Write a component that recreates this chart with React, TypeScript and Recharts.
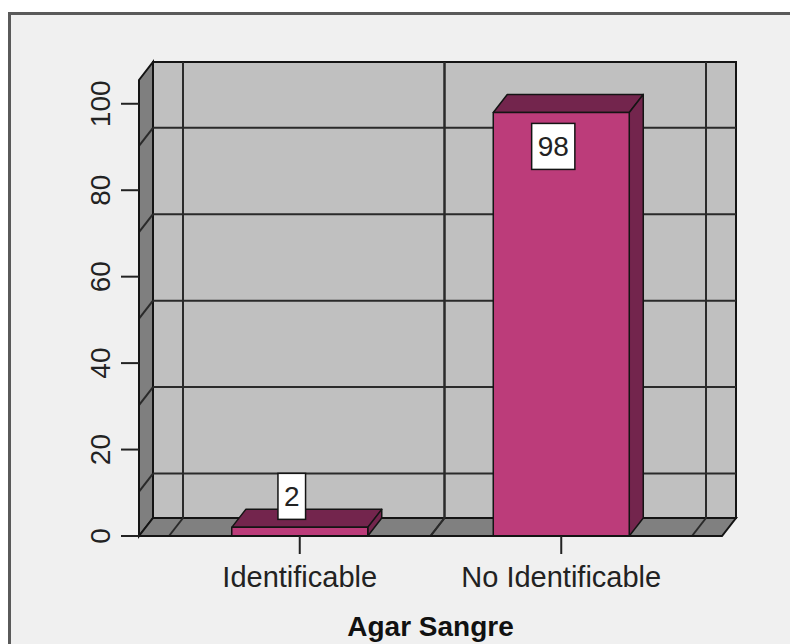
import React from 'react'
import { BarChart, Bar, XAxis, YAxis, ReferenceArea, LabelList } from 'recharts'

const categories = ['Identificable', 'No Identificable']
const percents = [2, 98]
const yTicks = [0, 20, 40, 60, 80, 100]
const gridValues = [20, 40, 60, 80, 100]
const xTitle = 'Agar Sangre'

const data = categories.map((name, i) => ({ name, value: percents[i] }))

const Y_MAX = 105.5
const PAD = 30 // floor extends past the outer bands
const DX = 14 // 3D depth
const DY = 18
const GRID_SHIFT = 42 // SPSS draws the back grid lower than the tick marks
const FONT = '"Liberation Sans", Arial, sans-serif'
const LINE = '#141414'

function Box3D(props: any) {
  const { x, y, width, height } = props
  const l = x - PAD
  const r = x + width + PAD
  const t = y
  const b = y + height
  return (
    <g>
      <rect
        x={l + DX}
        y={t - DY}
        width={r - l}
        height={b - t}
        fill='#c0c0c0'
        stroke={LINE}
        strokeWidth={2}
      />
      <polygon
        points={`${l},${t} ${l + DX},${t - DY} ${l + DX},${b - DY} ${l},${b}`}
        fill='#7f7f7f'
        stroke={LINE}
        strokeWidth={2}
      />
      <polygon
        points={`${l},${b} ${l + DX},${b - DY} ${r + DX},${b - DY} ${r},${b}`}
        fill='#808080'
        stroke={LINE}
        strokeWidth={2}
      />
    </g>
  )
}

function HGrid(props: any) {
  const { x, y, width } = props
  const l = x - PAD
  const r = x + width + PAD
  const yf = y + GRID_SHIFT
  const yb = yf - DY
  return (
    <g stroke='#2a2a2a' strokeWidth={2}>
      <line x1={l} y1={yf} x2={l + DX} y2={yb} />
      <line x1={l + DX} y1={yb} x2={r + DX} y2={yb} />
    </g>
  )
}

function VGrid(props: any) {
  const { x, y, width, height } = props
  const b = y + height
  return (
    <g stroke='#2a2a2a' strokeWidth={2}>
      {[x, x + width].map((xx, i) => (
        <g key={i}>
          <line x1={xx + DX} y1={y - DY} x2={xx + DX} y2={b - DY} />
          <line x1={xx + DX} y1={b - DY} x2={xx} y2={b} />
        </g>
      ))}
    </g>
  )
}

function Bar3D(props: any) {
  const { x, y, width, height } = props
  const r = x + width
  const b = y + height
  return (
    <g stroke={LINE} strokeWidth={1.5} strokeLinejoin='round'>
      <polygon
        points={`${x},${y} ${x + DX},${y - DY} ${r + DX},${y - DY} ${r},${y}`}
        fill='#73254d'
      />
      <polygon
        points={`${r},${y} ${r + DX},${y - DY} ${r + DX},${b - DY} ${r},${b}`}
        fill='#73254d'
      />
      <rect x={x} y={y} width={width} height={height} fill='#bc3c7a' />
    </g>
  )
}

function ValueTag(props: any) {
  const vb = props.viewBox ?? props
  const { x, y, width, height } = vb
  const value = props.value
  const cx = x + width / 2 - 8
  const cy = height > 80 ? y + 34 : y - 31
  const bw = 12 + String(value).length * 15.6
  return (
    <g>
      <rect
        x={cx - bw / 2}
        y={cy - 23}
        width={bw}
        height={46}
        fill='#fff'
        stroke={LINE}
        strokeWidth={1.5}
      />
      <text
        x={cx}
        y={cy}
        textAnchor='middle'
        dominantBaseline='central'
        fontSize={28}
        fontFamily={FONT}
        fill='#222'
      >
        {value}
      </text>
    </g>
  )
}

function YTick(props: any) {
  const { x, y, payload } = props
  const tx = x - 11
  return (
    <text
      x={tx}
      y={y}
      transform={`rotate(-90 ${tx} ${y})`}
      textAnchor='middle'
      fontSize={28}
      fontFamily={FONT}
      fill='#222'
    >
      {payload.value}
    </text>
  )
}

export default function App() {
  return (
    <div
      style={{
        position: 'fixed',
        left: 0,
        top: 0,
        width: 790,
        height: 644,
        overflow: 'hidden',
        background: '#fff',
      }}
    >
      <div
        style={{
          position: 'absolute',
          left: 8,
          top: 12,
          width: 820,
          height: 700,
          boxSizing: 'border-box',
          background: '#f0f0f0',
          borderTop: '3px solid #5a5a5a',
          borderLeft: '3px solid #5a5a5a',
        }}
      />
      <div style={{ position: 'absolute', left: 0, top: 0 }}>
        <BarChart
          width={790}
          height={644}
          data={data}
          margin={{ top: 80, right: 68, left: 79, bottom: 8 }}
          barCategoryGap='24%'
        >
          <ReferenceArea y1={0} y2={Y_MAX} shape={<Box3D />} />
          {categories.map((c) => (
            <ReferenceArea key={c} x1={c} x2={c} shape={<VGrid />} />
          ))}
          {gridValues.map((v) => (
            <ReferenceArea key={v} y1={v} y2={v} shape={<HGrid />} />
          ))}
          <XAxis
            dataKey='name'
            padding={{ left: PAD, right: PAD }}
            height={100}
            tickSize={18}
            tickMargin={12}
            tickLine={{ stroke: '#222', strokeWidth: 2 }}
            axisLine={{ stroke: LINE, strokeWidth: 2 }}
            tick={{ fontSize: 29, fill: '#222', fontFamily: FONT }}
            label={{
              value: xTitle,
              position: 'insideBottom',
              offset: 0,
              fontSize: 28,
              fontWeight: 'bold',
              fontFamily: FONT,
              fill: '#111',
            }}
          />
          <YAxis
            type='number'
            domain={[0, Y_MAX]}
            ticks={yTicks}
            interval={0}
            width={60}
            tickSize={18}
            tickMargin={0}
            tickLine={{ stroke: '#222', strokeWidth: 2 }}
            axisLine={{ stroke: LINE, strokeWidth: 2 }}
            tick={<YTick />}
          />
          <Bar dataKey='value' shape={<Bar3D />} isAnimationActive={false}>
            <LabelList dataKey='value' content={<ValueTag />} />
          </Bar>
        </BarChart>
      </div>
    </div>
  )
}
